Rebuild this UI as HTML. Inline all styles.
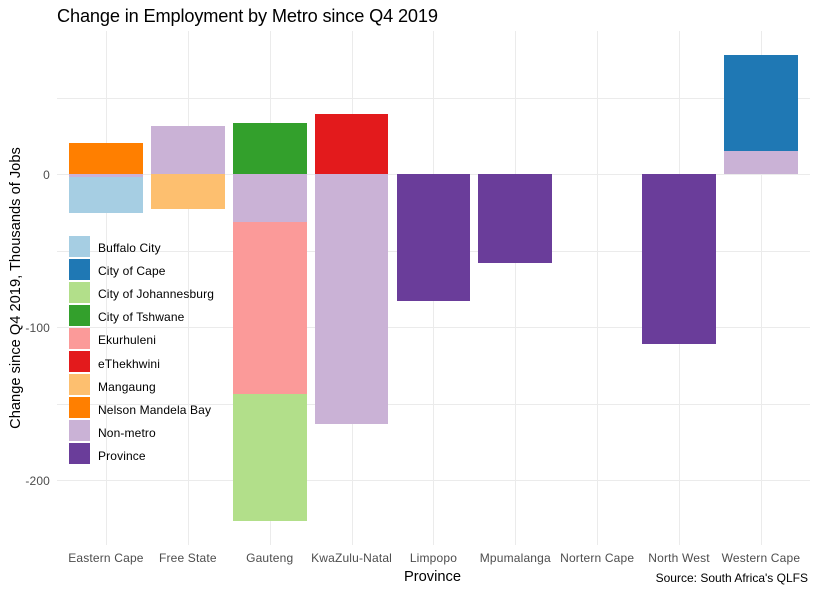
<!DOCTYPE html>
<html>
<head>
<meta charset="utf-8">
<title>Change in Employment by Metro since Q4 2019</title>
<style>
html,body{margin:0;padding:0;background:#fff;}
svg{display:block;font-family:"Liberation Sans",Arial,sans-serif;}
</style>
</head>
<body>
<svg id="chart" width="818" height="590" viewBox="0 0 818 590" xmlns="http://www.w3.org/2000/svg">
<rect x="0" y="0" width="818" height="590" fill="#ffffff"/>
<g id="grid"></g>
<g id="bars"></g>
<g id="legend"></g>
<g id="yticks"></g>
<g id="xticks"></g>
<text x="57" y="22" font-size="18.2" fill="#000000" textLength="381" lengthAdjust="spacing">Change in Employment by Metro since Q4 2019</text>
<text x="432.5" y="581" font-size="14.67" fill="#000000" text-anchor="middle">Province</text>
<text transform="translate(20 288) rotate(-90)" font-size="14.67" fill="#000000" text-anchor="middle">Change since Q4 2019, Thousands of Jobs</text>
<text x="808" y="582" font-size="12" fill="#000000" text-anchor="end">Source: South Africa's QLFS</text>
</svg>
<script>
const categories = ["Eastern Cape","Free State","Gauteng","KwaZulu-Natal","Limpopo","Mpumalanga","Nortern Cape","North West","Western Cape"];
const metros = ["Buffalo City","City of Cape","City of Johannesburg","City of Tshwane","Ekurhuleni","eThekhwini","Mangaung","Nelson Mandela Bay","Non-metro","Province"];
const colors = ["#a6cee3","#1f78b4","#b2df8a","#33a02c","#fb9a99","#e31a1c","#fdbf6f","#ff7f00","#cab2d6","#6a3d9a"];
const buffaloCity = [-23.3,0,0,0,0,0,0,0,0];
const cityOfCape = [0,0,0,0,0,0,0,0,62.8];
const cityOfJohannesburg = [0,0,-82.8,0,0,0,0,0,0];
const cityOfTshwane = [0,0,33.3,0,0,0,0,0,0];
const ekurhuleni = [0,0,-112.6,0,0,0,0,0,0];
const eThekhwini = [0,0,0,39.2,0,0,0,0,0];
const mangaung = [0,-22.7,0,0,0,0,0,0,0];
const nelsonMandelaBay = [20.3,0,0,0,0,0,0,0,0];
const nonMetro = [-2,31.4,-31.2,-163.4,0,0,0,0,15];
const province = [0,0,0,0,-82.8,-58.2,0,-111,0];
const seriesValues = [buffaloCity,cityOfCape,cityOfJohannesburg,cityOfTshwane,ekurhuleni,eThekhwini,mangaung,nelsonMandelaBay,nonMetro,province];
const yTickValues = [0,-100,-200];
const yTickLabels = ["0","-100","-200"];
const yGridValues = [50,0,-50,-100,-150,-200];

const NS = "http://www.w3.org/2000/svg";
function yScale(v){ return 174 - 1.53 * v; }
function xScale(i){ return 105.95 + 81.87 * i; }
const barHalfWidth = 36.9;

function make(tag, parent){
  const el = document.createElementNS(NS, tag);
  parent.appendChild(el);
  return el;
}

const grid = document.getElementById("grid");
yGridValues.forEach(function(v){
  const line = make("line", grid);
  
  
  const py = Math.round(yScale(v)) + 0.5;
  line.setAttribute("x1", 57);
  line.setAttribute("x2", 810);
  line.setAttribute("y1", py);
  line.setAttribute("y2", py);
  line.setAttribute("stroke", "#ebebeb");
  line.setAttribute("stroke-width", 1);
});
categories.forEach(function(c, i){
  const line = make("line", grid);
  
  
  const px = Math.floor(xScale(i) + 0.5) + 0.5;
  line.setAttribute("x1", px);
  line.setAttribute("x2", px);
  line.setAttribute("y1", 31);
  line.setAttribute("y2", 545);
  line.setAttribute("stroke", "#ebebeb");
  line.setAttribute("stroke-width", 1);
});

const bars = document.getElementById("bars");
categories.forEach(function(c, i){
  let pos = 0;
  let neg = 0;
  for (let s = metros.length - 1; s >= 0; s--) {
    const v = seriesValues[s][i];
    if (!v) continue;
    let a, b;
    if (v > 0) { a = pos; pos += v; b = pos; }
    else { a = neg; neg += v; b = neg; }
    const top = Math.round(yScale(Math.max(a, b)));
    const bottom = Math.round(yScale(Math.min(a, b)));
    const left = Math.round(xScale(i) - barHalfWidth);
    const right = Math.round(xScale(i) + barHalfWidth);
    const rect = make("rect", bars);
    
    
    rect.setAttribute("x", left);
    rect.setAttribute("y", top);
    rect.setAttribute("width", right - left);
    rect.setAttribute("height", bottom - top);
    rect.setAttribute("fill", colors[s]);
    rect.setAttribute("shape-rendering", "crispEdges");
  }
});

const legend = document.getElementById("legend");
metros.forEach(function(m, i){
  const key = make("rect", legend);
  
  
  key.setAttribute("x", 69);
  key.setAttribute("y", 236 + 23 * i);
  key.setAttribute("width", 21);
  key.setAttribute("height", 21);
  key.setAttribute("fill", colors[i]);
  key.setAttribute("shape-rendering", "crispEdges");
  const label = make("text", legend);
  
  
  label.setAttribute("x", 98);
  label.setAttribute("y", Math.round(252 + 23.12 * i));
  label.setAttribute("font-size", 12);
  label.setAttribute("letter-spacing", 0.13);
  label.setAttribute("fill", "#000000");
  label.textContent = m;
});

const yticks = document.getElementById("yticks");
yTickValues.forEach(function(v, i){
  const label = make("text", yticks);
  
  
  label.setAttribute("x", 50);
  label.setAttribute("y", yScale(v) + 5);
  label.setAttribute("font-size", 12);
  label.setAttribute("letter-spacing", 0.15);
  label.setAttribute("fill", "#4d4d4d");
  label.setAttribute("text-anchor", "end");
  label.textContent = yTickLabels[i];
});

const xticks = document.getElementById("xticks");
categories.forEach(function(c, i){
  const label = make("text", xticks);
  
  
  label.setAttribute("x", xScale(i));
  label.setAttribute("y", 562);
  label.setAttribute("font-size", 12);
  label.setAttribute("letter-spacing", 0.17);
  label.setAttribute("fill", "#4d4d4d");
  label.setAttribute("text-anchor", "middle");
  label.textContent = c;
});
</script>
</body>
</html>
